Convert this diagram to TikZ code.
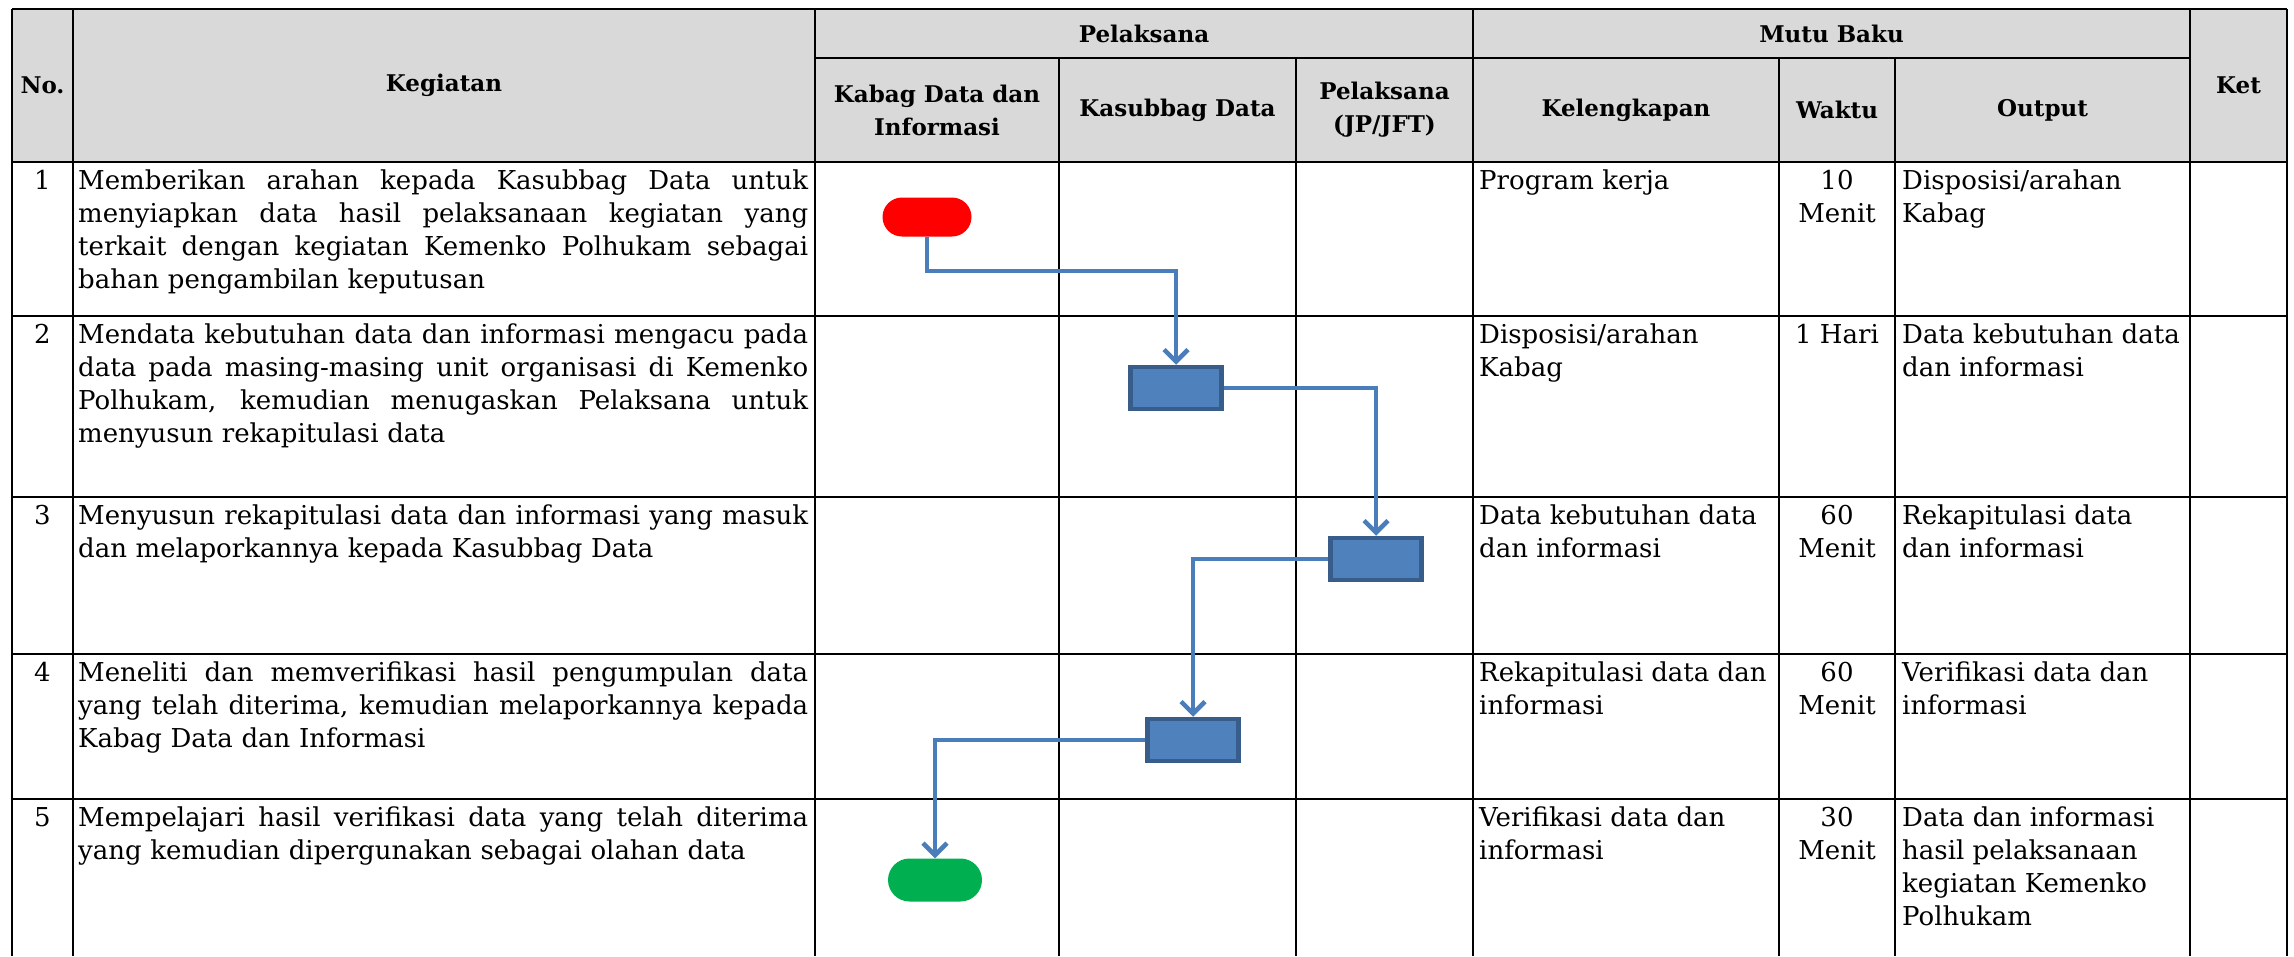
\documentclass[tikz,border=0pt]{standalone}
\usepackage{fontspec}
\setmainfont{DejaVu Serif}
\usetikzlibrary{arrows.meta}
\definecolor{hdr}{HTML}{D9D9D9}
\definecolor{boxfill}{HTML}{4F81BD}
\definecolor{boxline}{HTML}{385D8A}
\definecolor{flow}{HTML}{4A7EBB}
\definecolor{startred}{HTML}{FF0000}
\definecolor{endgreen}{HTML}{00B050}
\newlength\kgw
\setlength{\kgw}{730pt}
\newcommand\jl[1]{\makebox[\kgw][s]{\spaceskip=0.318em plus 1fil\xspaceskip=0.318em plus 1fil\strut #1}\\}
\tikzset{
  grid/.style={line width=2.5pt, black},
  hd/.style={font=\fontsize{23}{33}\selectfont\bfseries, inner sep=0pt},
  bd/.style={font=\fontsize{26}{33}\selectfont, inner sep=0pt},
  keg/.style={bd, anchor=north west, text width=730pt, align=left},
  kel/.style={bd, anchor=north west, align=left},
  wak/.style={bd, anchor=north, align=center},
  num/.style={bd, anchor=north},
  procbox/.style={draw=boxline, fill=boxfill, line width=4.5pt, minimum width=91pt, minimum height=42pt, inner sep=0pt},
  startterm/.style={fill=startred, rounded corners=19.5pt, minimum width=89pt, minimum height=39pt, inner sep=0pt},
  endterm/.style={fill=endgreen, rounded corners=21.5pt, minimum width=94pt, minimum height=43pt, inner sep=0pt},
  flowarrow/.style={draw=flow, line width=4.5pt, -{Straight Barb[length=12pt, width=24pt]}}
}
\begin{document}
\begin{tikzpicture}[x=1pt, y=-1pt]
\useasboundingbox (0,0) rectangle (2294,956);
% header background
\fill[hdr] (12,9) rectangle (2287,162);
% grid lines
\draw[grid] (12,9) -- (2287,9);
\draw[grid] (815,58) -- (2190,58);
\foreach \yy in {162,316,497,654,799} {\draw[grid] (12,\yy) -- (2287,\yy);}
\foreach \xx in {12,73,815,1473,2190,2287} {\draw[grid] (\xx,9) -- (\xx,956);}
\foreach \xx in {1059,1296,1779,1895} {\draw[grid] (\xx,58) -- (\xx,956);}
% header text
\node[hd] (hno) at (42.5,85.5) {No.};
\node[hd] (hkeg) at (444,85.5) {Kegiatan};
\node[hd] (hpel) at (1144,33.5) {Pelaksana};
\node[hd,align=center] (hkab) at (937,110) {Kabag Data dan\\Informasi};
\node[hd] (hkas) at (1177.5,110) {Kasubbag Data};
\node[hd,align=center] (hjp) at (1384.5,110) {Pelaksana\\(JP/JFT)};
\node[hd] (hmutu) at (1831.5,33.5) {Mutu Baku};
\node[hd] (hkel) at (1626,110) {Kelengkapan};
\node[hd] (hwak) at (1837,110) {Waktu};
\node[hd] (hout) at (2042.5,110) {Output};
\node[hd] (hket) at (2238.5,85.5) {Ket};
% row 1
\node[num] (n1) at (42.5,166) {\strut 1};
\node[keg] (k1) at (78,166) {\jl{Memberikan arahan kepada Kasubbag Data untuk}\jl{menyiapkan data hasil pelaksanaan kegiatan yang}\jl{terkait dengan kegiatan Kemenko Polhukam sebagai}\strut bahan pengambilan keputusan};
\node[kel] (l1) at (1479,166) {\strut Program kerja};
\node[wak] (w1) at (1837,166) {\strut 10\\Menit};
\node[kel] (o1) at (1902,166) {\strut Disposisi/arahan\\Kabag};
% row 2
\node[num] (n2) at (42.5,320) {\strut 2};
\node[keg] (k2) at (78,320) {\jl{Mendata kebutuhan data dan informasi mengacu pada}\jl{data pada masing-masing unit organisasi di Kemenko}\jl{Polhukam, kemudian menugaskan Pelaksana untuk}\strut menyusun rekapitulasi data};
\node[kel] (l2) at (1479,320) {\strut Disposisi/arahan\\Kabag};
\node[wak] (w2) at (1837,320) {\strut 1 Hari};
\node[kel] (o2) at (1902,320) {\strut Data kebutuhan data\\dan informasi};
% row 3
\node[num] (n3) at (42.5,501) {\strut 3};
\node[keg] (k3) at (78,501) {\jl{Menyusun rekapitulasi data dan informasi yang masuk}\strut dan melaporkannya kepada Kasubbag Data};
\node[kel] (l3) at (1479,501) {\strut Data kebutuhan data\\dan informasi};
\node[wak] (w3) at (1837,501) {\strut 60\\Menit};
\node[kel] (o3) at (1902,501) {\strut Rekapitulasi data\\dan informasi};
% row 4
\node[num] (n4) at (42.5,658) {\strut 4};
\node[keg] (k4) at (78,658) {\jl{Meneliti dan memverifikasi hasil pengumpulan data}\jl{yang telah diterima, kemudian melaporkannya kepada}\strut Kabag Data dan Informasi};
\node[kel] (l4) at (1479,658) {\strut Rekapitulasi data dan\\informasi};
\node[wak] (w4) at (1837,658) {\strut 60\\Menit};
\node[kel] (o4) at (1902,658) {\strut Verifikasi data dan\\informasi};
% row 5
\node[num] (n5) at (42.5,803) {\strut 5};
\node[keg] (k5) at (78,803) {\jl{Mempelajari hasil verifikasi data yang telah diterima}\strut yang kemudian dipergunakan sebagai olahan data};
\node[kel] (l5) at (1479,803) {\strut Verifikasi data dan\\informasi};
\node[wak] (w5) at (1837,803) {\strut 30\\Menit};
\node[kel] (o5) at (1902,803) {\strut Data dan informasi\\hasil pelaksanaan\\kegiatan Kemenko\\Polhukam};
% flow shapes
\node[startterm] (start) at (927,217) {};
\node[procbox] (b2) at (1176,388) {};
\node[procbox] (b3) at (1376,559) {};
\node[procbox] (b4) at (1193,740) {};
\node[endterm] (finish) at (935,880) {};
\coordinate (bend1) at (927,271);
% connectors
\draw[flowarrow] (start.south) -- (bend1) -| (b2.north);
\draw[flowarrow] (b2.east) -| (b3.north);
\draw[flowarrow] (b3.west) -| (b4.north);
\draw[flowarrow] (b4.west) -| (finish.north);
\end{tikzpicture}
\end{document}
